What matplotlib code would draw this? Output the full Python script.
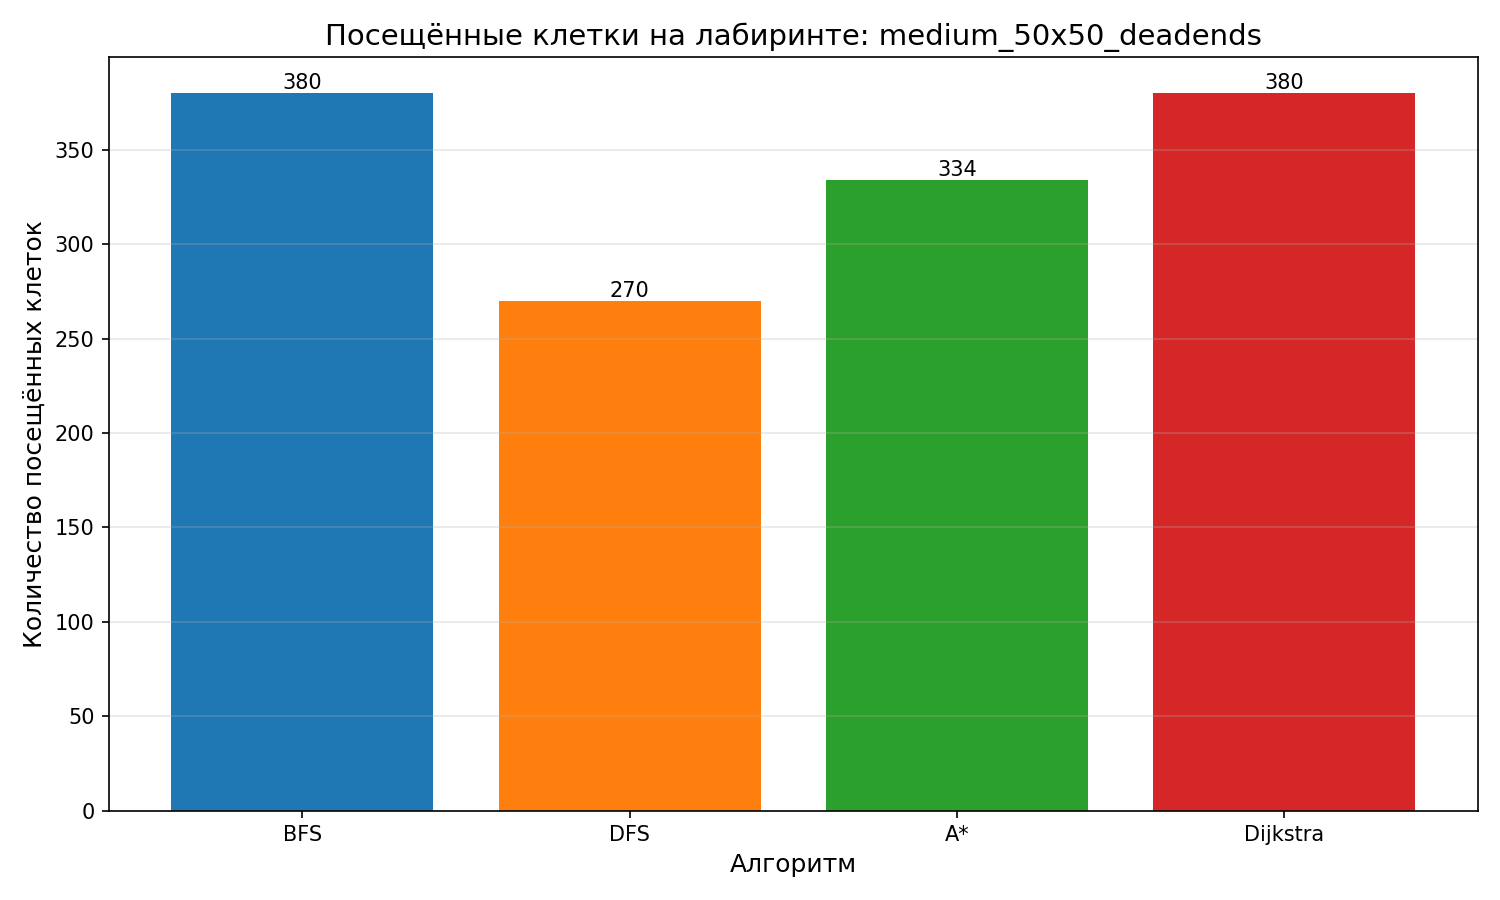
import matplotlib
matplotlib.use("Agg")
import matplotlib.pyplot as plt

# Данные
algorithms = ["BFS", "DFS", "A*", "Dijkstra"]
visited = [380, 270, 334, 380]
colors = ["#1f77b4", "#ff7f0e", "#2ca02c", "#d62728"]
maze_name = "medium_50x50_deadends"

fig, ax = plt.subplots(figsize=(10, 6), dpi=150)
bars = ax.bar(algorithms, visited, color=colors)
ax.bar_label(bars, fontsize=10)

ax.set_title(f"Посещённые клетки на лабиринте: {maze_name}", fontsize=14)
ax.set_xlabel("Алгоритм", fontsize=12)
ax.set_ylabel("Количество посещённых клеток", fontsize=12)
ax.grid(axis="y", alpha=0.3)

plt.tight_layout()
plt.savefig("out.png")
plt.close()
